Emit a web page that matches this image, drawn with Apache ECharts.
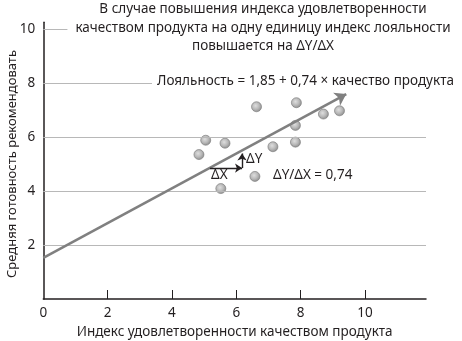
<!DOCTYPE html>
<html>
<head>
<meta charset="utf-8">
<script src="https://cdn.jsdelivr.net/npm/echarts@6/dist/echarts.min.js"></script>
<style>
  html, body { margin: 0; padding: 0; background: #fff; }
  #chart { width: 462px; height: 341px; }
</style>
</head>
<body>
<div id="chart"></div>
<script>
// Satisfaction with product quality (x) vs. average willingness to recommend (y)
const satisfaction = [6.63, 7.87, 8.71, 9.21, 7.84, 5.05, 5.65, 4.84, 7.14, 7.84, 6.58, 5.52];
const recommend    = [7.12, 7.27, 6.85, 6.97, 6.43, 5.88, 5.77, 5.35, 5.64, 5.81, 4.54, 4.09];

// Trend arrow as drawn: start and end points in data units
const trendStart = [0, 1.52];
const trendEnd = [9.42, 7.59];

// Delta construction along the trend
const deltaXStart = [5.18, 4.85];
const deltaXEnd = [6.18, 4.85];
const deltaYEnd = [6.18, 5.39];

const xTicks = [2, 4, 6, 8, 10];
const xLabels = [0, 2, 4, 6, 8, 10];
const yTicks = [2, 4, 6, 8, 10];

const FONT = 'Noto Sans';
const INK = '#231f20';

const points = satisfaction.map((x, i) => [x, recommend[i]]);

const chart = echarts.init(document.getElementById('chart'));

chart.setOption({
  animation: false,
  textStyle: { fontFamily: FONT, color: INK },
  grid: { left: 43.3, right: 36, top: 22.25, bottom: 42, containLabel: false, outerBoundsMode: 'none' },
  xAxis: {
    type: 'value',
    min: 0,
    max: 11.9,
    interval: 2,
    name: 'Индекс удовлетворенности качеством продукта',
    nameLocation: 'middle',
    nameGap: 26,
    nameTextStyle: { fontFamily: FONT, fontSize: 13.5, color: INK },
    axisLine: { show: true, lineStyle: { color: INK, width: 1.5 } },
    axisTick: { show: true, inside: true, length: 9, customValues: xTicks, lineStyle: { color: INK, width: 1 } },
    axisLabel: { customValues: xLabels, fontFamily: FONT, fontSize: 13.5, color: INK, margin: 7 },
    splitLine: { show: false }
  },
  yAxis: {
    type: 'value',
    min: 0,
    max: 10.25,
    interval: 2,
    axisLine: { show: true, lineStyle: { color: INK, width: 1.5 } },
    axisTick: { show: false },
    axisLabel: { customValues: yTicks, fontFamily: FONT, fontSize: 13.5, color: INK, margin: 8 },
    splitLine: { show: false }
  },
  series: [
    {
      // horizontal gridlines
      type: 'line',
      data: [],
      silent: true,
      z: 1,
      markLine: {
        silent: true,
        symbol: ['none', 'none'],
        label: { show: false },
        lineStyle: { color: '#b8b8b8', width: 1, type: 'solid' },
        data: yTicks.map(v => ({ yAxis: v }))
      }
    },
    {
      // trend arrow and delta arrows
      type: 'line',
      data: [],
      silent: true,
      z: 3,
      markLine: {
        silent: true,
        label: { show: false },
        symbol: ['none', 'arrow'],
        data: [
          [
            { coord: trendStart, lineStyle: { color: '#808080', width: 2.6, type: 'solid' } },
            { coord: trendEnd, symbolSize: 11 }
          ],
          [
            { coord: deltaXStart, lineStyle: { color: INK, width: 1.4, type: 'solid' } },
            { coord: deltaXEnd, symbolSize: 7 }
          ],
          [
            { coord: deltaXEnd, lineStyle: { color: INK, width: 1.4, type: 'solid' } },
            { coord: deltaYEnd, symbolSize: 7 }
          ]
        ]
      }
    },
    {
      type: 'scatter',
      data: points,
      symbolSize: 10,
      z: 4,
      itemStyle: {
        color: {
          type: 'radial', x: 0.42, y: 0.4, r: 0.6,
          colorStops: [
            { offset: 0, color: '#d6d6d6' },
            { offset: 0.55, color: '#a8a8a8' },
            { offset: 1, color: '#727272' }
          ]
        },
        borderColor: '#7a7a7a',
        borderWidth: 0.8
      }
    }
  ],
  graphic: [
    {
      // y-axis title
      type: 'text',
      z: 10,
      x: 12,
      y: 164,
      rotation: Math.PI / 2,
      style: {
        text: 'Средняя готовность рекомендовать',
        font: '13px "Noto Sans"',
        fill: INK,
        align: 'center',
        verticalAlign: 'middle'
      }
    },
    {
      type: 'text',
      z: 10,
      x: 263,
      y: 0,
      style: {
        text: 'В случае повышения индекса удовлетворенности\nкачеством продукта на одну единицу индекс лояльности\nповышается на ΔY/ΔX',
        font: '13.5px "Noto Sans"',
        fill: INK,
        align: 'center',
        lineHeight: 18.5,
        backgroundColor: '#fff',
        padding: [0, 8, 0, 8]
      }
    },
    {
      type: 'text',
      z: 10,
      x: 152,
      y: 74,
      style: {
        text: 'Лояльность = 1,85 + 0,74 × качество продукта',
        font: '13.5px "Noto Sans"',
        fill: INK,
        backgroundColor: '#fff',
        padding: [0, 4, 0, 5]
      }
    },
    {
      type: 'text',
      z: 10,
      x: 246,
      y: 152,
      style: { text: 'ΔY', font: '13.5px "Noto Sans"', fill: INK }
    },
    {
      type: 'text',
      z: 10,
      x: 211,
      y: 168,
      style: { text: 'ΔX', font: '13.5px "Noto Sans"', fill: INK }
    },
    {
      type: 'text',
      z: 10,
      x: 273,
      y: 168,
      style: { text: 'ΔY/ΔX = 0,74', font: '13.5px "Noto Sans"', fill: INK }
    }
  ]
});
</script>
</body>
</html>
